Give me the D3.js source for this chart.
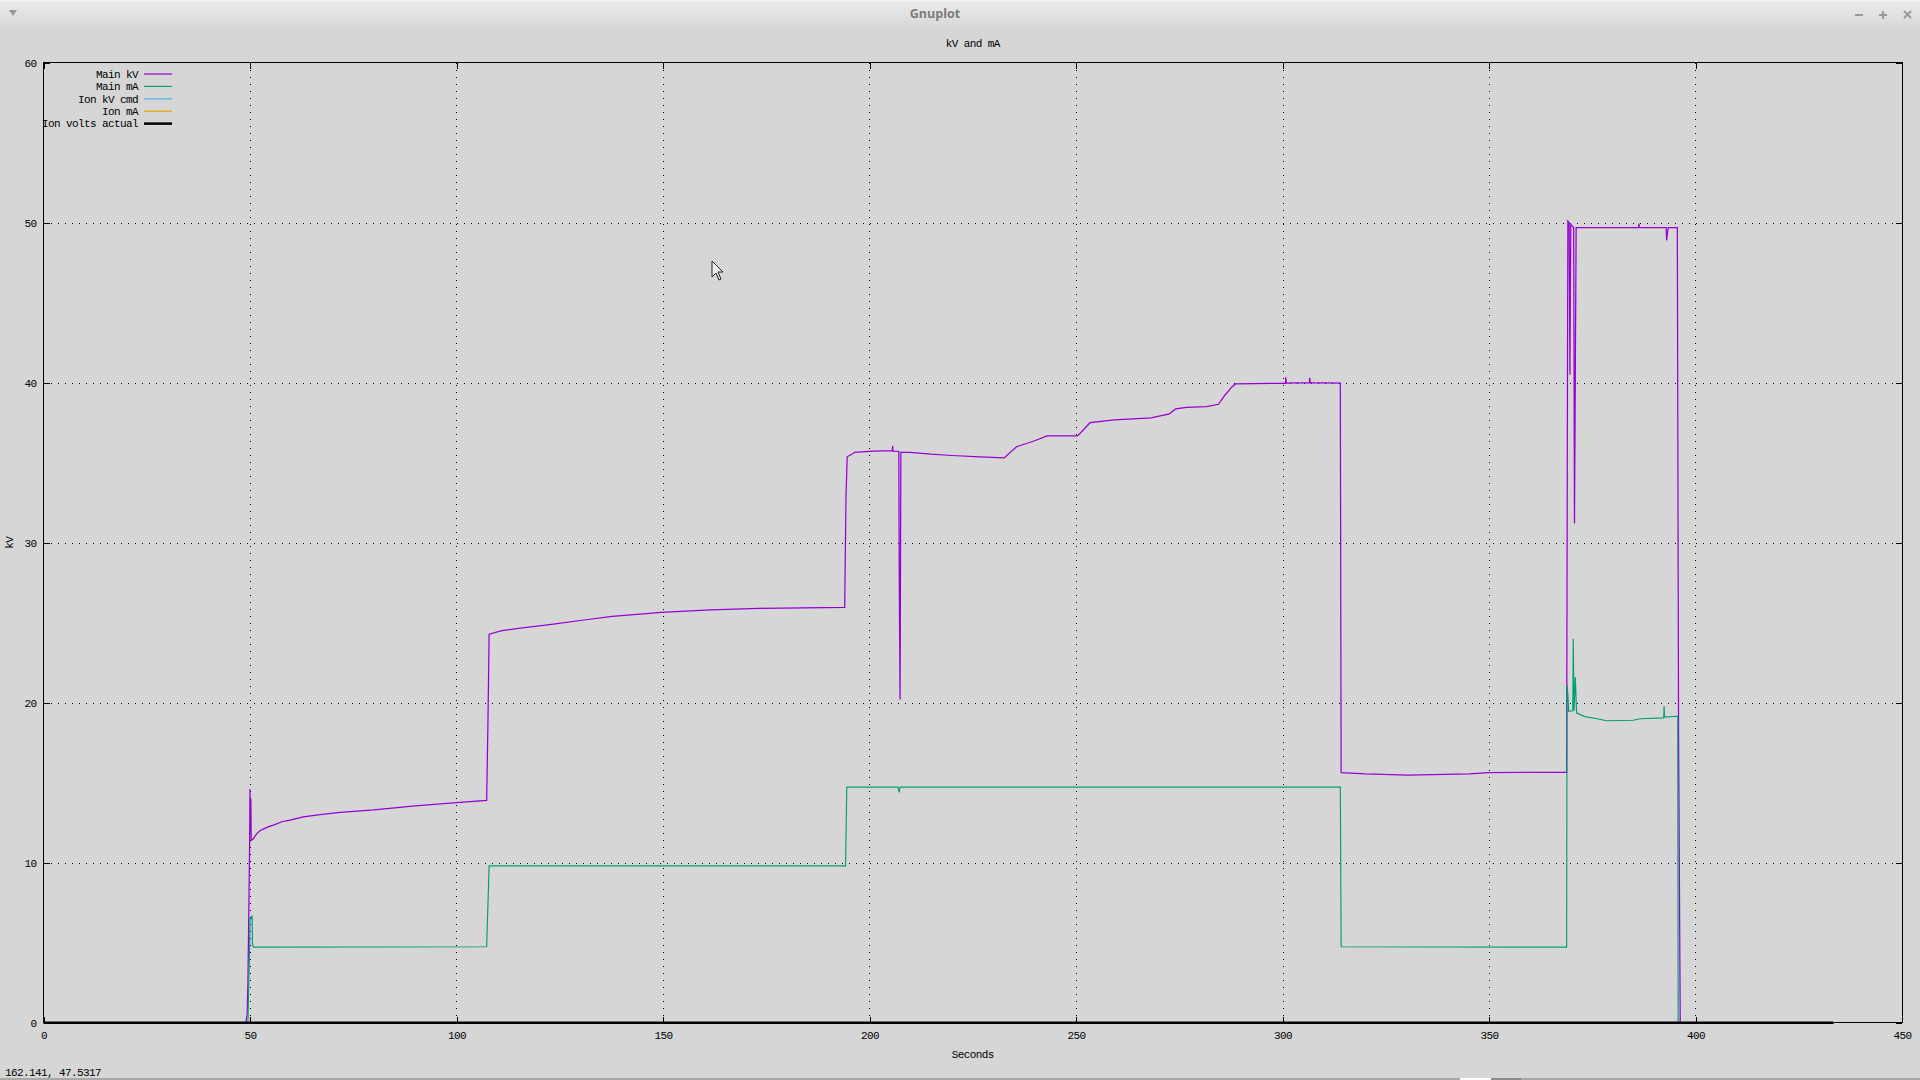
<!DOCTYPE html>
<html>
<head>
<meta charset="utf-8">
<script src="https://cdn.jsdelivr.net/npm/d3@7"></script>
<style>
  html, body { margin: 0; padding: 0; background: #d6d6d6; }
  svg { display: block; }
  text { font-family: "Liberation Mono", "DejaVu Sans Mono", monospace; font-size: 11px; letter-spacing: -0.6px; fill: #000; }
</style>
</head>
<body>
<svg id="chart" width="1920" height="1080"></svg>
<script>
// ---------------- DATA ----------------
const chartTitle = "kV and mA";
const xLabel = "Seconds";
const yLabel = "kV";
const statusText = "162.141,  47.5317";
const xTicks = [0, 50, 100, 150, 200, 250, 300, 350, 400, 450];
const yTicks = [0, 10, 20, 30, 40, 50, 60];
const seriesNames = ["Main kV", "Main mA", "Ion kV cmd", "Ion mA", "Ion volts actual"];
const seriesColors = ["#9400d3", "#009e73", "#56b4e9", "#e69f00", "#000000"];

const mainKvTime = [0, 49.0, 49.3, 49.5, 49.7, 49.9, 50.0, 50.1, 50.2, 50.3, 50.8, 51.6, 52.4, 53.2, 54.5, 55.7, 57.7, 59.7, 62.9, 67.0, 71.8, 80, 90, 100, 107.3, 107.6, 107.9, 111, 115, 123, 131.8, 137.7, 149.6, 161.4, 173.3, 194.0, 194.3, 194.6, 196.1, 196.4, 200.9, 205.5, 205.6, 205.7, 207.1, 207.2, 207.4, 207.6, 209.8, 214.8, 220, 226.7, 232.6, 235.6, 240, 243, 250.4, 253.4, 259.3, 268.2, 272.6, 274.1, 276.8, 281.6, 284.5, 286, 287, 287.8, 288.6, 299.5, 300.7, 300.8, 300.9, 306.5, 306.6, 306.7, 314.0, 314.2, 320, 330.4, 345.3, 350, 368.8, 369.0, 369.1, 369.4, 369.6, 369.8, 370.5, 370.7, 370.9, 371.1, 386.2, 386.3, 386.4, 392.9, 393.0, 393.2, 393.4, 395.6, 395.9, 396.3, 433.4];
const mainKv = [0, 0, 0.5, 2.5, 6.7, 11.0, 14.6, 12.0, 14.0, 11.4, 11.5, 11.8, 12.0, 12.1, 12.25, 12.35, 12.56, 12.66, 12.87, 13.0, 13.15, 13.3, 13.55, 13.75, 13.9, 18.5, 24.28, 24.5, 24.65, 24.9, 25.2, 25.4, 25.65, 25.8, 25.9, 25.96, 32.8, 35.37, 35.59, 35.65, 35.73, 35.75, 36.04, 35.72, 35.7, 28.0, 20.2, 35.65, 35.65, 35.53, 35.45, 35.37, 35.3, 36.0, 36.37, 36.68, 36.68, 37.5, 37.67, 37.8, 38.05, 38.36, 38.46, 38.5, 38.65, 39.2, 39.5, 39.75, 39.92, 39.96, 39.96, 40.34, 39.98, 40.0, 40.3, 40.0, 39.97, 15.63, 15.55, 15.48, 15.55, 15.63, 15.65, 40.5, 50.1, 50.0, 40.5, 49.9, 49.7, 31.2, 40.5, 49.7, 49.7, 49.95, 49.7, 49.7, 48.9, 49.3, 49.7, 49.7, 18.0, 0, 0];

const mainMaTime = [0, 49.5, 49.7, 49.9, 50.0, 50.3, 50.5, 50.6, 50.8, 107.3, 107.9, 194.2, 194.5, 206.9, 207.2, 207.4, 314.0, 314.2, 368.8, 368.9, 369.1, 369.3, 370.3, 370.4, 370.6, 370.9, 371.2, 373.2, 376.5, 378.5, 384.9, 386.6, 392.3, 392.4, 392.5, 395.7, 395.8, 433.4];
const mainMa = [0, 0, 2.5, 4.5, 6.5, 6.5, 6.7, 4.92, 4.72, 4.75, 9.8, 9.8, 14.72, 14.72, 14.4, 14.72, 14.72, 4.75, 4.72, 21.1, 20.5, 19.46, 19.5, 24.0, 19.5, 21.6, 19.37, 19.13, 18.98, 18.87, 18.9, 19.0, 19.05, 19.8, 19.1, 19.15, 0, 0];

const ionKvCmdTime = [0, 433.4];
const ionKvCmd = [0, 0];
const ionMaTime = [0, 433.4];
const ionMa = [0, 0];
const ionVoltsTime = [0, 433.4];
const ionVolts = [0, 0];

// ---------------- DRAW ----------------
const svg = d3.select("#chart");
const W = 1920, H = 1080;
const plot = { left: 43.5, right: 1902, top: 62.7, bottom: 1022.7 };

const x = d3.scaleLinear().domain([0, 450]).range([plot.left, plot.right]);
const y = d3.scaleLinear().domain([0, 60]).range([plot.bottom, plot.top]);

// window background + title bar
const defs = svg.append("defs");
const grad = defs.append("linearGradient").attr("id", "tb").attr("x1", 0).attr("y1", 0).attr("x2", 0).attr("y2", 1);
grad.append("stop").attr("offset", "0%").attr("stop-color", "#ececec");
grad.append("stop").attr("offset", "100%").attr("stop-color", "#d6d6d6");
svg.append("rect").attr("width", W).attr("height", H).attr("fill", "#d6d6d6");
svg.append("rect").attr("width", W).attr("height", 30).attr("fill", "url(#tb)");
svg.append("rect").attr("width", W).attr("height", 1).attr("fill", "#f4f4f4");
svg.append("text").attr("x", 935).attr("y", 14).attr("text-anchor", "middle").attr("dy", "0.35em")
  .style("font-family", "'Open Sans', 'DejaVu Sans', sans-serif").style("font-size", "12.5px")
  .style("font-weight", "bold").style("letter-spacing", "0").style("fill", "#7b7b7b").text("Gnuplot");
svg.append("path").attr("d", "M9,10 L17,10 L13,16 Z").attr("fill", "#9a9a9a");
// window buttons
svg.append("rect").attr("x", 1855).attr("y", 14).attr("width", 8).attr("height", 2).attr("fill", "#9a9a9a");
svg.append("rect").attr("x", 1879).attr("y", 14).attr("width", 8).attr("height", 2).attr("fill", "#9a9a9a");
svg.append("rect").attr("x", 1882).attr("y", 11).attr("width", 2).attr("height", 8).attr("fill", "#9a9a9a");
svg.append("path").attr("d", "M1904,11 L1911,18 M1911,11 L1904,18").attr("stroke", "#9a9a9a").attr("stroke-width", 2);

// grid
const grid = svg.append("g").attr("shape-rendering", "crispEdges");
grid.selectAll("line.gx").data(xTicks.filter(d => d > 0 && d < 450)).enter().append("line")
  .attr("x1", d => Math.round(x(d)) + 0.5).attr("x2", d => Math.round(x(d)) + 0.5)
  .attr("y1", plot.top).attr("y2", plot.bottom)
  .attr("stroke", "#000").attr("stroke-width", 1).attr("stroke-dasharray", "1,6");
grid.selectAll("line.gy").data(yTicks.filter(d => d > 0 && d < 60)).enter().append("line")
  .attr("y1", d => Math.round(y(d)) + 0.5).attr("y2", d => Math.round(y(d)) + 0.5)
  .attr("x1", plot.left).attr("x2", plot.right)
  .attr("stroke", "#000").attr("stroke-width", 1).attr("stroke-dasharray", "1,6");

// axes
function styleAxis(g) {
  g.select(".domain").remove();
  g.selectAll(".tick line").attr("stroke", "#000").attr("shape-rendering", "crispEdges");
  g.selectAll("text").attr("fill", "#000").style("font-family", null).style("font-size", null);
}
svg.append("g").attr("transform", `translate(0,${plot.bottom})`)
  .call(d3.axisBottom(x).tickValues(xTicks).tickSize(-6).tickSizeOuter(0).tickPadding(9).tickFormat(d3.format("d")))
  .attr("font-family", null).attr("font-size", null).call(styleAxis);
svg.append("g").attr("transform", `translate(0,${plot.top})`)
  .call(d3.axisTop(x).tickValues(xTicks).tickSize(-6).tickSizeOuter(0).tickFormat(""))
  .call(styleAxis);
svg.append("g").attr("transform", `translate(${plot.left},0)`)
  .call(d3.axisLeft(y).tickValues(yTicks).tickSize(-6).tickSizeOuter(0).tickPadding(7).tickFormat(d3.format("d")))
  .attr("font-family", null).attr("font-size", null).call(styleAxis);
svg.append("g").attr("transform", `translate(${plot.right},0)`)
  .call(d3.axisRight(y).tickValues(yTicks).tickSize(-6).tickSizeOuter(0).tickFormat(""))
  .call(styleAxis);

// border
svg.append("rect").attr("x", plot.left).attr("y", plot.top)
  .attr("width", plot.right - plot.left).attr("height", plot.bottom - plot.top)
  .attr("fill", "none").attr("stroke", "#000").attr("stroke-width", 1).attr("shape-rendering", "crispEdges");

// series
const seriesData = [
  { t: mainKvTime, v: mainKv, w: 1.25 },
  { t: mainMaTime, v: mainMa, w: 1.15 },
  { t: ionKvCmdTime, v: ionKvCmd, w: 1.15 },
  { t: ionMaTime, v: ionMa, w: 1.15 },
  { t: ionVoltsTime, v: ionVolts, w: 2.5 }
];
const line = d3.line().x(d => x(d[0])).y(d => y(d[1]));
seriesData.forEach((s, i) => {
  const pts = s.t.map((t, k) => [t, s.v[k]]);
  svg.append("path").datum(pts).attr("d", line)
    .attr("fill", "none").attr("stroke", seriesColors[i]).attr("stroke-width", s.w)
    .attr("stroke-linejoin", "miter");
});

// legend
const leg = svg.append("g");
seriesNames.forEach((name, i) => {
  const yy = 74 + i * 12.4;
  leg.append("text").attr("x", 138).attr("y", yy).attr("dy", "0.35em").attr("text-anchor", "end").text(name);
  leg.append("line").attr("x1", 144).attr("x2", 172).attr("y1", yy).attr("y2", yy)
    .attr("stroke", seriesColors[i]).attr("stroke-width", i === 4 ? 2.5 : 1.2);
});

// titles
svg.append("text").attr("x", (plot.left + plot.right) / 2).attr("y", 43).attr("dy", "0.35em")
  .attr("text-anchor", "middle").text(chartTitle);
svg.append("text").attr("x", (plot.left + plot.right) / 2).attr("y", 1054).attr("dy", "0.35em")
  .attr("text-anchor", "middle").text(xLabel);
svg.append("text").attr("transform", `translate(9,${(plot.top + plot.bottom) / 2}) rotate(-90)`)
  .attr("dy", "0.35em").attr("text-anchor", "middle").text(yLabel);

// status line + bottom edge
svg.append("text").attr("x", 5).attr("y", 1072).attr("dy", "0.35em").text(statusText);
svg.append("rect").attr("x", 0).attr("y", 1078).attr("width", W).attr("height", 2).attr("fill", "#a8a8a8");
svg.append("rect").attr("x", 1460).attr("y", 1078).attr("width", 31).attr("height", 2).attr("fill", "#ffffff");
svg.append("rect").attr("x", 1491).attr("y", 1078).attr("width", 30).attr("height", 2).attr("fill", "#8a8a8a");

// mouse pointer
svg.append("path").attr("d", "M712,261 L712,277 L716,273 L719,280 L721,279 L718,272 L723,272 Z")
  .attr("fill", "#f0f0f0").attr("stroke", "#222").attr("stroke-width", 1).attr("stroke-linejoin", "round");
</script>
</body>
</html>
